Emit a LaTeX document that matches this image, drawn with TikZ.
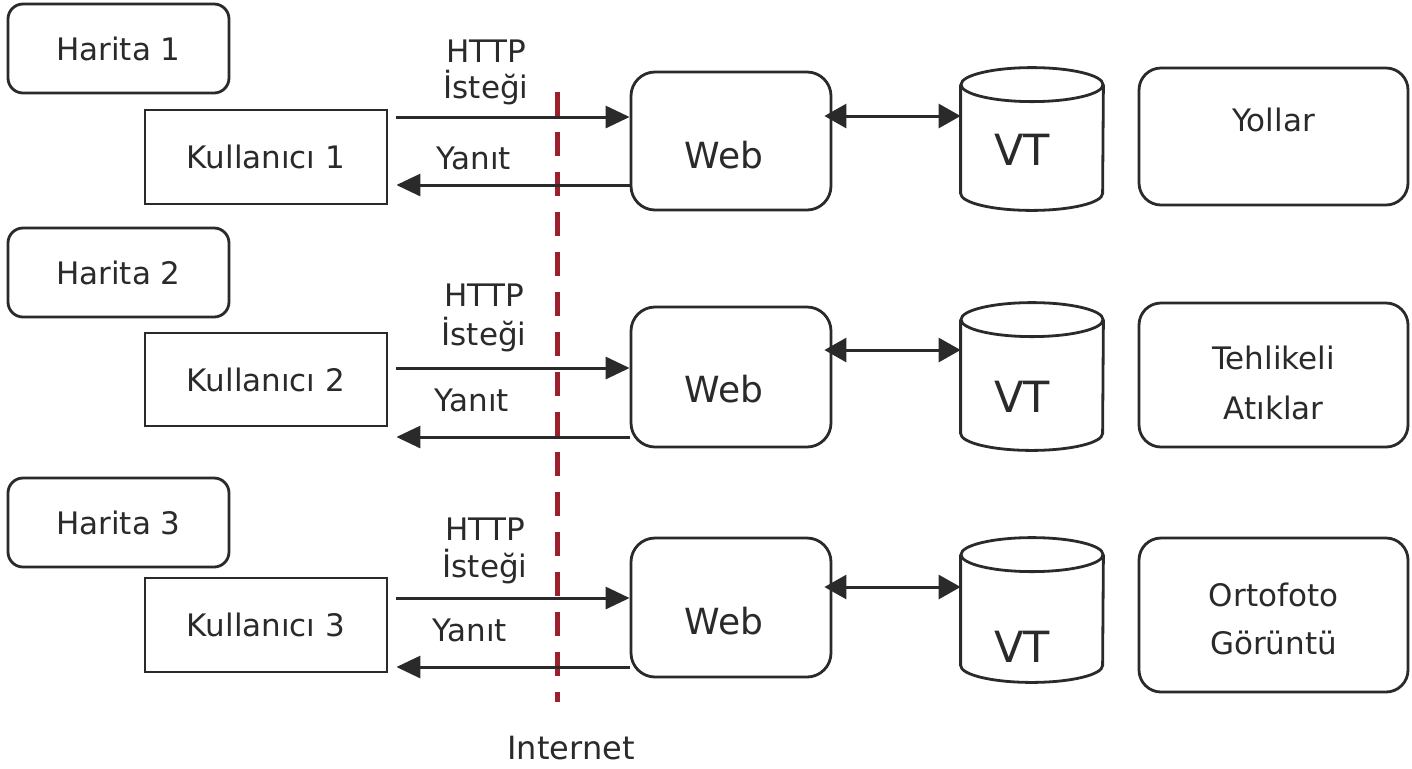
\documentclass[tikz,border=0pt]{standalone}
\usepackage{fontspec}
\setmainfont{DejaVu Sans}
\usetikzlibrary{arrows.meta,calc}
\definecolor{ink}{HTML}{2A2A2A}
\definecolor{netred}{RGB}{155,34,44}

% database cylinder drawn around an invisible slot node
\newcommand{\dbcyl}[1]{%
  \draw[outline] ([yshift=-8.5pt]#1.north west) -- ([yshift=8.5pt]#1.south west)
     arc[start angle=180,end angle=360,x radius=35.5pt,y radius=8.5pt]
     -- ([yshift=-8.5pt]#1.north east);
  \draw[outline] ([yshift=-8.5pt]#1.north) ellipse [x radius=35.5pt, y radius=8.5pt];
}

\begin{document}
\begin{tikzpicture}[x=0.5pt,y=-0.5pt,
  txt/.style={font=\fontsize{15.5}{19}\selectfont, text=ink, inner sep=0pt, align=center},
  outline/.style={draw=ink, line width=1.4pt},
  mapbox/.style={outline, rounded corners=7.5pt, minimum width=110.5pt, minimum height=44.5pt, txt},
  userbox/.style={outline, minimum width=121pt, txt},
  webbox/.style={outline, rounded corners=12pt, minimum width=100pt, inner sep=0pt},
  layerbox/.style={outline, rounded corners=11pt, minimum width=134.5pt, inner sep=0pt},
  dbslot/.style={inner sep=0pt, minimum width=71pt},
  webtxt/.style={font=\fontsize{18}{20}\selectfont, text=ink, inner sep=0pt},
  vttxt/.style={font=\fontsize{21.5}{24}\selectfont, text=ink, inner sep=0pt},
  reqarrow/.style={draw=ink, line width=1.5pt, -{Triangle[length=12pt,width=11pt]}},
  twoway/.style={draw=ink, line width=1.5pt, {Triangle[length=11pt,width=12pt]}-{Triangle[length=11pt,width=12pt]}},
  netline/.style={draw=netred, line width=2.5pt, dash pattern=on 12pt off 8pt},
]
\fill[white] (0,0) rectangle (1412,768);

% ---- maps and users ----
\node[mapbox] (har1) at (118.5,48.5) {Harita 1};
\node[mapbox] (har2) at (118.5,272.5) {Harita 2};
\node[mapbox] (har3) at (118.5,522.5) {Harita 3};

\node[userbox, minimum height=47pt] (kul1) at (266,157) {Kullanıcı 1};
\node[userbox, minimum height=46.5pt] (kul2) at (266,379.5) {Kullanıcı 2};
\node[userbox, minimum height=47pt] (kul3) at (266,625) {Kullanıcı 3};

% ---- web servers ----
\node[webbox, minimum height=69pt] (web1) at (731,141) {};
\node[webbox, minimum height=70pt] (web2) at (731,377) {};
\node[webbox, minimum height=69.5pt] (web3) at (731,607.5) {};
\node[webtxt] (web1t) at (724,155) {Web};
\node[webtxt] (web2t) at (724,389) {Web};
\node[webtxt] (web3t) at (724,621) {Web};

% ---- databases ----
\node[dbslot, minimum height=71pt] (vt1) at (1032,139) {};
\node[dbslot, minimum height=73.5pt] (vt2) at (1032,376.5) {};
\node[dbslot, minimum height=72pt] (vt3) at (1032,610) {};
\dbcyl{vt1}
\dbcyl{vt2}
\dbcyl{vt3}
\node[vttxt] (vt1t) at (1022,150) {VT};
\node[vttxt] (vt2t) at (1022,397) {VT};
\node[vttxt] (vt3t) at (1022,647) {VT};

% ---- data layers ----
\node[layerbox, minimum height=68.5pt] (yol) at (1273.5,136.5) {};
\node[layerbox, minimum height=72pt] (teh) at (1273.5,375) {};
\node[layerbox, minimum height=77pt] (ort) at (1273.5,615) {};
\node[txt] (yolt) at (1273.5,120) {Yollar};
\node[txt, font=\fontsize{15.5}{25}\selectfont] (teht) at (1273.5,383) {Tehlikeli\\Atıklar};
\node[txt, font=\fontsize{15.5}{24}\selectfont] (ortt) at (1273.5,619) {Ortofoto\\Görüntü};

% ---- internet boundary ----
\coordinate (nettop) at (557,92);
\coordinate (netbot) at (557,702);
\draw[netline] (nettop) -- (netbot);
\node[txt, font=\fontsize{16}{19}\selectfont] (inet) at (571,748) {Internet};

% ---- request / response rows ----
\coordinate (q1) at (0,117);  \coordinate (a1) at (0,185);  \coordinate (d1) at (0,116);
\coordinate (q2) at (0,368);  \coordinate (a2) at (0,437);  \coordinate (d2) at (0,350);
\coordinate (q3) at (0,598);  \coordinate (a3) at (0,667);  \coordinate (d3) at (0,587);

\foreach \i in {1,2,3}{
  \draw[reqarrow] ($(kul\i.east |- q\i)+(8,0)$) -- (web\i.west |- q\i);
  \draw[reqarrow] (web\i.west |- a\i) -- ($(kul\i.east |- a\i)+(8,0)$);
  \draw[twoway] ($(web\i.east |- d\i)+(-8,0)$) -- (vt\i.west |- d\i);
}

\node[txt, font=\fontsize{15.5}{18}\selectfont] (req1) at (486,72) {HTTP\\İsteği};
\node[txt, font=\fontsize{15.5}{19.5}\selectfont] (req2) at (484,318) {HTTP\\İsteği};
\node[txt, font=\fontsize{15.5}{18.5}\selectfont] (req3) at (485,551) {HTTP\\İsteği};
\node[txt] (res1) at (474,158) {Yanıt};
\node[txt] (res2) at (472,400) {Yanıt};
\node[txt] (res3) at (470,630) {Yanıt};
\end{tikzpicture}
\end{document}
